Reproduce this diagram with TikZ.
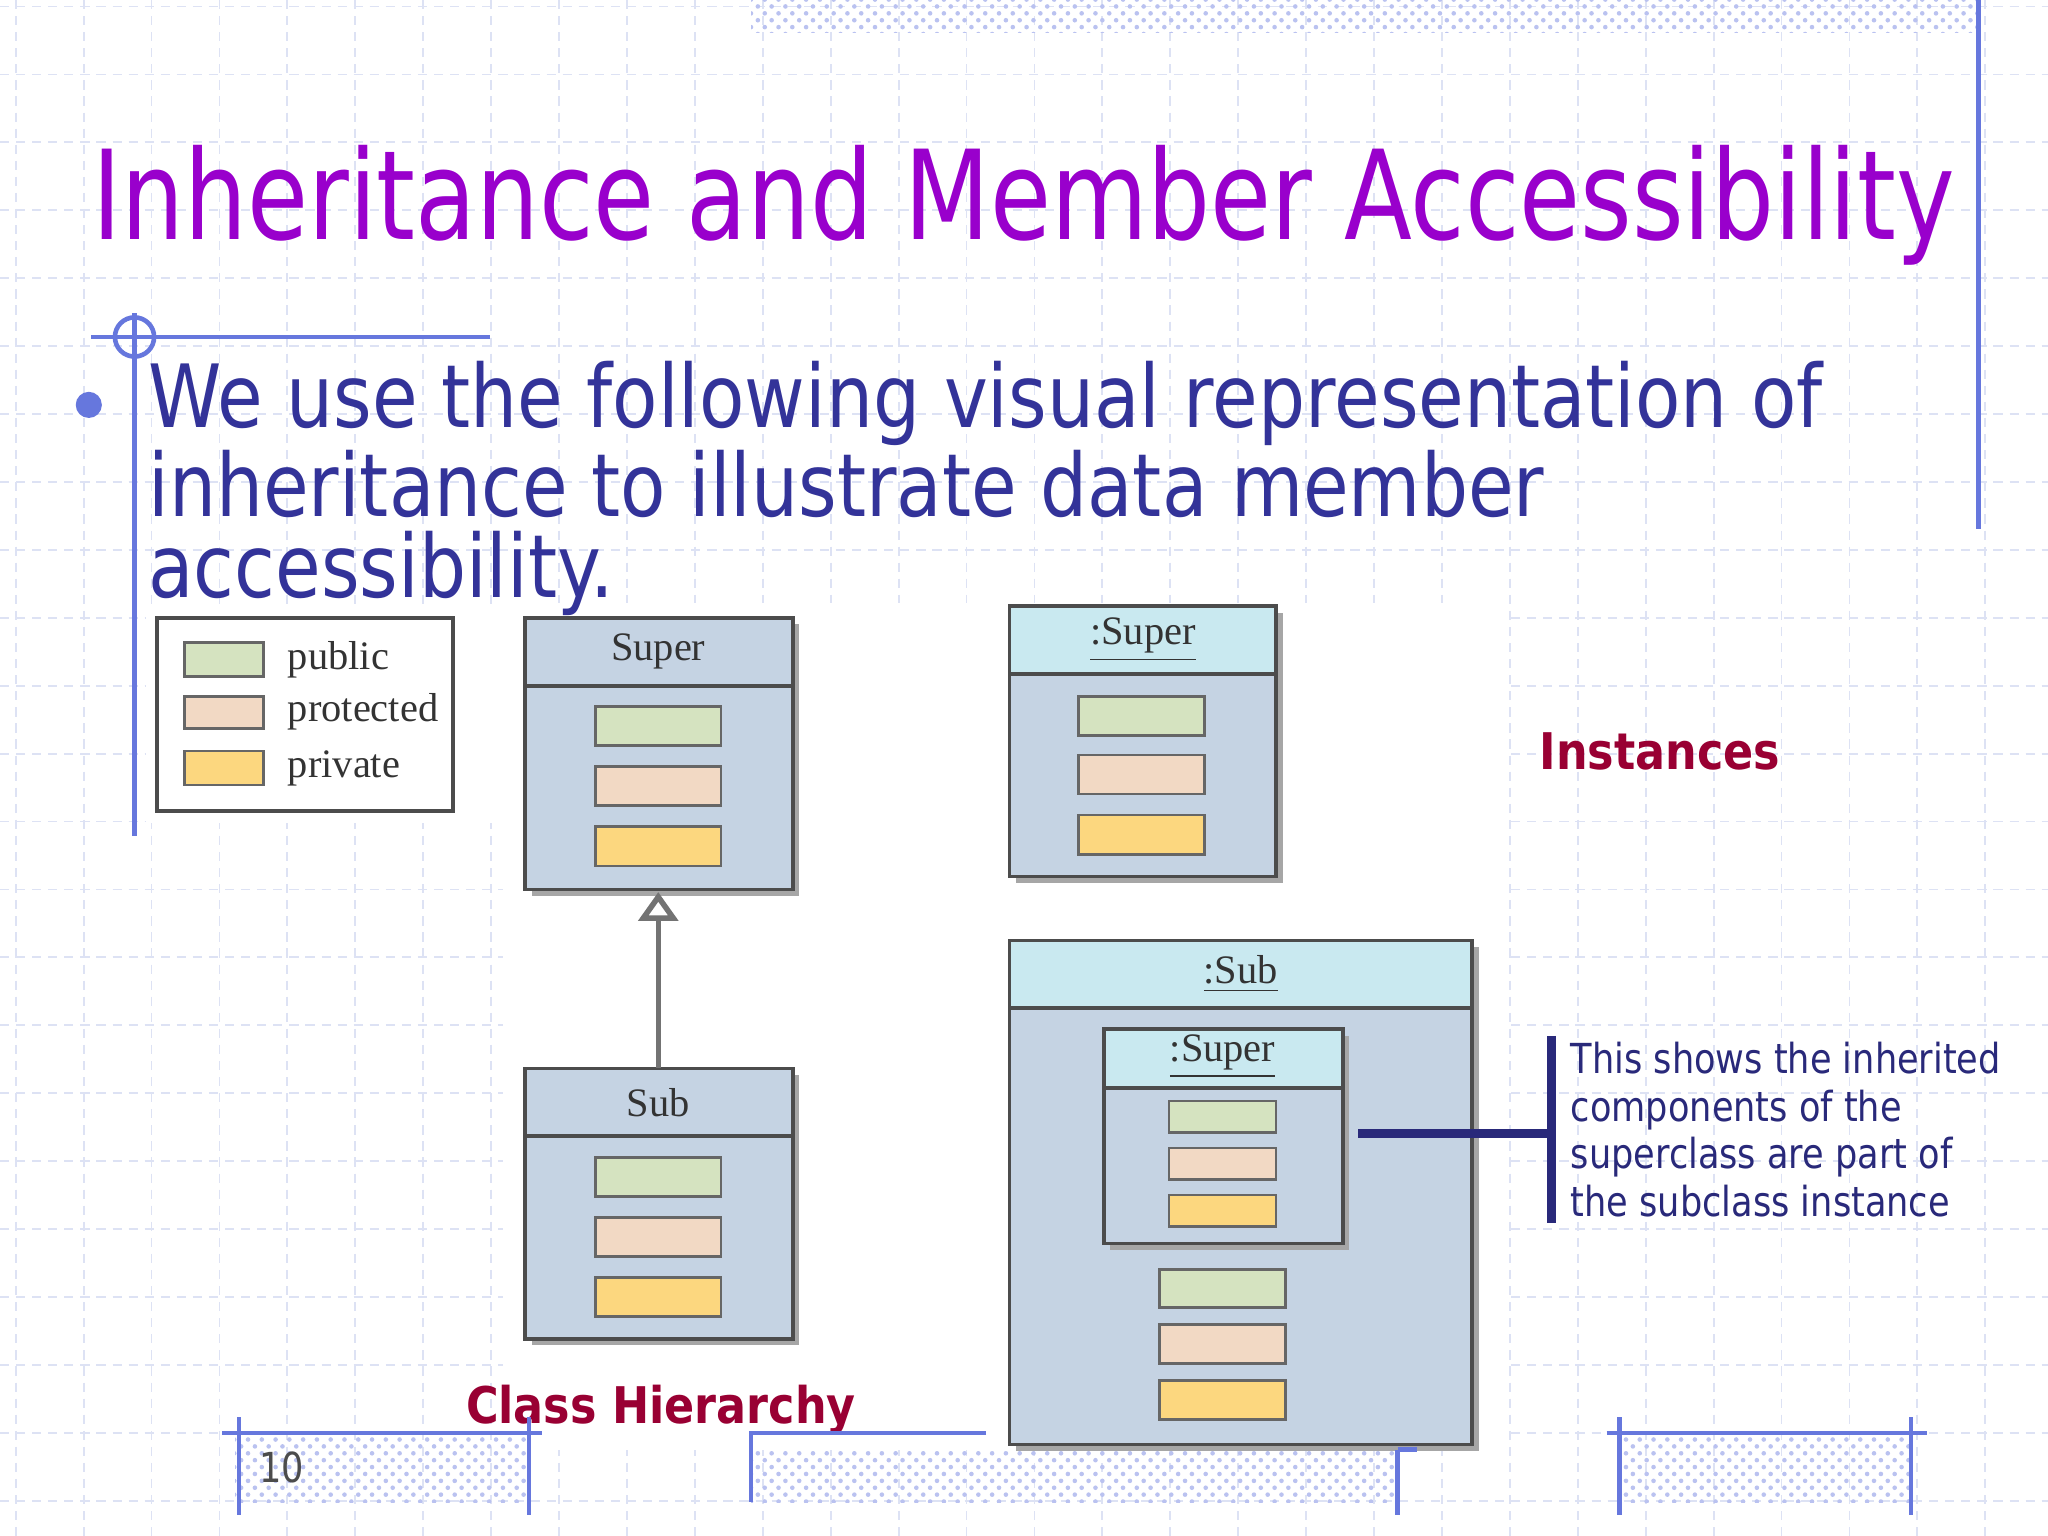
\documentclass[tikz,border=0pt]{standalone}
\usepackage{fontspec}
\setmainfont{DejaVu Sans}
\newfontfamily\tah{DejaVu Sans}[FakeStretch=0.8]
\newfontfamily\tahb{DejaVu Sans Bold}[FakeStretch=0.88]
\newfontfamily\tahn{DejaVu Sans}[FakeStretch=0.85]
\newfontfamily\serif{Liberation Serif}
\usetikzlibrary{patterns,arrows.meta}
\definecolor{titlec}{HTML}{9900CC}
\definecolor{bodyc}{HTML}{333399}
\definecolor{redc}{HTML}{990033}
\definecolor{gridc}{HTML}{DDE2F4}
\definecolor{pubc}{HTML}{D5E3C0}
\definecolor{proc}{HTML}{F2D9C4}
\definecolor{pric}{HTML}{FCD77F}
\definecolor{boxc}{HTML}{C5D3E3}
\definecolor{instc}{HTML}{C9E9F0}
\definecolor{framec}{HTML}{6677DD}
\tikzset{
  sw/.style={draw=black!60, line width=0.6pt},
  cls/.style={draw=black!70, fill=boxc, line width=0.8pt},
  shad/.style={fill=black!35},
  lbl/.style={font=\serif\fontsize{8.8}{10}\selectfont, text=black!80},
  gl/.style={gridc, dash pattern=on 2pt off 1.5pt, line width=0.4pt}
}
\newcommand\clsbox[4]{% x1,y1,x2,y2
  \fill[shad] (#1+5,#2+5) rectangle (#3+5,#4+5);
  \filldraw[cls] (#1,#2) rectangle (#3,#4);}
\begin{document}
\begin{tikzpicture}[x=0.01cm,y=-0.01cm]
\useasboundingbox (0,0) rectangle (1568,1176);
\fill[white] (0,0) rectangle (1568,1176);
% grid
\foreach \i in {0,...,30}
  \draw[gl] (\i*52+12,0) -- (\i*52+12,1176);
\foreach \i in {0,...,23}
  \draw[gl] (0,\i*52+5) -- (1568,\i*52+5);
% figure background
\fill[white] (385,462) rectangle (1155,1110);
\fill[white] (112,465) rectangle (385,630);
% frame decorations
\fill[pattern=crosshatch dots, pattern color=framec!45] (575,0) rectangle (1515,25);
\draw[framec, line width=1pt] (1515,0) -- (1515,405);
\draw[framec, line width=1pt] (70,258) -- (375,258);
\draw[framec, line width=1pt] (103,240) -- (103,640);
\draw[framec, line width=1pt] (103,258) circle (15);
\fill[framec] (68,310) circle (10);
% title
\node[anchor=base west, inner sep=0, text=titlec, font=\tah\fontsize{27}{30}\selectfont] (title) at (70,183) {Inheritance and Member Accessibility};
% body
\node[anchor=north west, inner sep=0, text=bodyc, align=left, font=\tahn\fontsize{19}{17.6}\selectfont] (body) at (113,276)
 {We use the following visual representation of\\inheritance to illustrate data member\\accessibility.};
% legend
\draw[black!70, line width=0.8pt] (120,473) rectangle (347,621);
\filldraw[sw, fill=pubc] (141,492) rectangle (202,518);
\filldraw[sw, fill=proc] (141,533) rectangle (202,558);
\filldraw[sw, fill=pric] (141,575) rectangle (202,601);
\node[lbl, anchor=west] (lp) at (208,505) {public};
\node[lbl, anchor=west] (lr) at (208,545) {protected};
\node[lbl, anchor=west] (lv) at (208,588) {private};
% Super class
\clsbox{402}{473}{607}{681}
\draw[black!70, line width=0.8pt] (402,525) -- (607,525);
\node[lbl] (super) at (504,499) {Super};
\filldraw[sw, fill=pubc] (456,541) rectangle (552,571);
\filldraw[sw, fill=proc] (456,587) rectangle (552,617);
\filldraw[sw, fill=pric] (456,633) rectangle (552,663);
\coordinate (superb) at (504,683);
% Sub class
\clsbox{402}{818}{607}{1025}
\draw[black!70, line width=0.8pt] (402,870) -- (607,870);
\node[lbl] (sub) at (504,844) {Sub};
\filldraw[sw, fill=pubc] (456,886) rectangle (552,916);
\filldraw[sw, fill=proc] (456,932) rectangle (552,962);
\filldraw[sw, fill=pric] (456,978) rectangle (552,1008);
\coordinate (subt) at (504,818);
\draw[black!55, line width=1.2pt, -{Triangle[open, length=0.22cm, width=0.3cm]}] (subt) -- (superb);
% :Super instance
\clsbox{773}{464}{977}{671}
\filldraw[draw=black!70, fill=instc, line width=0.8pt] (773,464) rectangle (977,516);
\node[lbl] (isuper) at (875,490) {\underline{:Super}};
\filldraw[sw, fill=pubc] (826,533) rectangle (922,563);
\filldraw[sw, fill=proc] (826,578) rectangle (922,608);
\filldraw[sw, fill=pric] (826,624) rectangle (922,654);
% :Sub instance
\clsbox{773}{720}{1127}{1106}
\filldraw[draw=black!70, fill=instc, line width=0.8pt] (773,720) rectangle (1127,772);
\node[lbl] (isub) at (950,746) {\underline{:Sub}};
\clsbox{845}{788}{1028}{952}
\filldraw[draw=black!70, fill=instc, line width=0.8pt] (845,788) rectangle (1028,833);
\node[lbl] (iisuper) at (936,809) {\underline{:Super}};
\filldraw[sw, fill=pubc] (895,843) rectangle (977,867);
\filldraw[sw, fill=proc] (895,879) rectangle (977,903);
\filldraw[sw, fill=pric] (895,915) rectangle (977,939);
\filldraw[sw, fill=pubc] (888,972) rectangle (984,1001);
\filldraw[sw, fill=proc] (888,1014) rectangle (984,1044);
\filldraw[sw, fill=pric] (888,1057) rectangle (984,1087);
% labels
\node[anchor=base west, inner sep=0, text=redc, font=\tahb\fontsize{11}{12}\selectfont] (inst) at (1178,589) {Instances};
\node[anchor=base, inner sep=0, text=redc, font=\tahb\fontsize{11}{12}\selectfont] (ch) at (506,1090) {Class Hierarchy};
\coordinate (cs) at (1040,868);
\coordinate (ce) at (1188,868);
\draw[bodyc!80!black, line width=2pt] (cs) -- (ce);
\draw[bodyc!80!black, line width=2pt] (1188,793) -- (1188,936);
\node[anchor=north west, inner sep=0, text=bodyc!80!black, align=left, font=\tahn\fontsize{9}{10.4}\selectfont] (note) at (1202,797)
 {This shows the inherited\\components of the\\superclass are part of\\the subclass instance};
% footer
\fill[pattern=crosshatch dots, pattern color=framec!45] (180,1097) rectangle (405,1150);
\fill[pattern=crosshatch dots, pattern color=framec!45] (575,1110) rectangle (1070,1150);
\fill[pattern=crosshatch dots, pattern color=framec!45] (1240,1097) rectangle (1463,1150);
\draw[framec, line width=1pt] (170,1097) -- (415,1097) (183,1085) -- (183,1160) (405,1085) -- (405,1160);
\draw[framec, line width=1pt] (755,1097) -- (575,1097) -- (575,1150) (1070,1110) -- (1070,1160) (1070,1110) -- (1085,1110);
\draw[framec, line width=1pt] (1230,1097) -- (1475,1097) (1240,1085) -- (1240,1160) (1463,1085) -- (1463,1160);
\node[anchor=base west, inner sep=0, text=black!70, font=\tahn\fontsize{9}{10}\selectfont] (pg) at (198,1135) {10};
\end{tikzpicture}
\end{document}
